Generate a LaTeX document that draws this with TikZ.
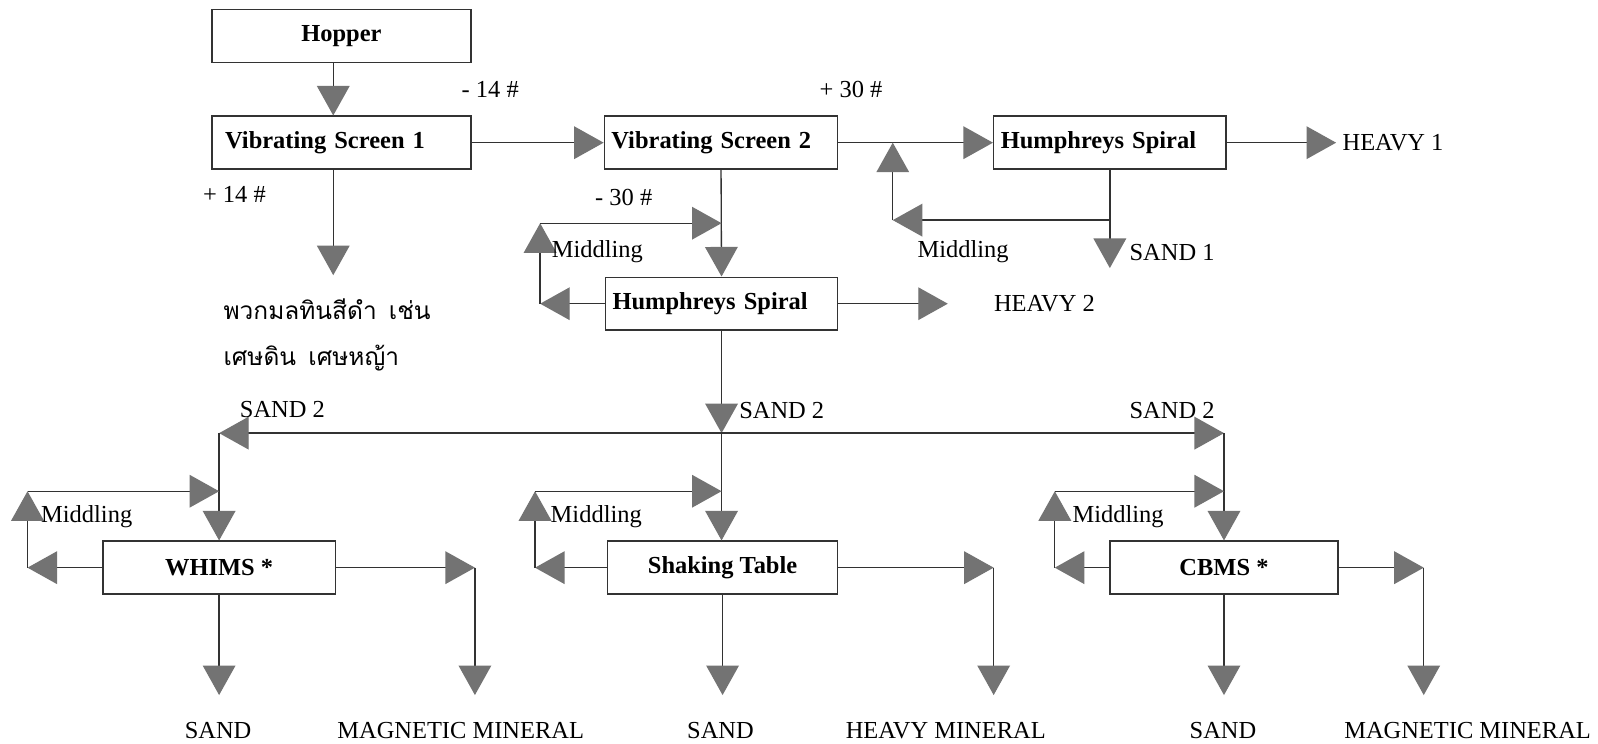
\documentclass[tikz,border=0pt]{standalone}
\usepackage{fontspec}
\setmainfont{Liberation Serif}
\newfontfamily\thaifont[Script=Thai]{Loma}
\usetikzlibrary{arrows.meta}
\definecolor{trigray}{RGB}{115,115,115}
\definecolor{linegray}{RGB}{50,50,50}
\begin{document}
\begin{tikzpicture}[x=0.5pt,y=-0.5pt,
  lbl/.style={font=\fontsize{12}{14}\selectfont, inner sep=0pt},
  thailbl/.style={font=\fontsize{12}{14}\selectfont\thaifont, inner sep=0pt, anchor=west},
  box/.style={draw=black!80, line width=0.7pt, minimum height=26pt, inner sep=0pt,
              font=\fontsize{12}{14}\selectfont\bfseries},
  lbox/.style={box, align=left, text width=#1, inner xsep=3.5pt},
  con/.style={draw=linegray, line width=0.65pt,
              -{Triangle[width=16pt,length=14.5pt,color=trigray]}},
]
\useasboundingbox[fill=white] (0,0) rectangle (1568,730);

% boxes
\node[box, minimum width=127pt] (hop) at (335,35.5) {Hopper};
\node[box, align=left, text width=114pt, inner xsep=6.5pt] (vs1) at (335,140) {Vibrating Screen 1};
\node[lbox=107.5pt] (vs2) at (707.5,140) {Vibrating Screen 2};
\node[lbox=107pt] (hs1) at (1089,140) {Humphreys Spiral};
\node[lbox=107pt] (hs2) at (708,298) {Humphreys Spiral};
\node[box, minimum width=114pt] (wh) at (215,557) {WHIMS *};
\node[box, minimum width=113pt] (st) at (709,557) {Shaking Table};
\node[box, minimum width=112pt] (cb) at (1201,557) {CBMS *};

% coordinates
\coordinate (cA) at (327,0);
\coordinate (tA) at (327,270);
\coordinate (h1) at (1311,140);
\coordinate (s1) at (1089,263);
\coordinate (j1) at (1089,216);
\coordinate (m1c) at (876,216);
\coordinate (m1t) at (876,140);
\coordinate (m2c) at (530,298);
\coordinate (m2t) at (530,219);
\coordinate (m2e) at (708,219);
\coordinate (h2) at (930,298);
\coordinate (j2) at (708,425);
\coordinate (L) at (215,425);
\coordinate (R) at (1201,425);
\coordinate (wlc) at (27,557);
\coordinate (wlt) at (27,482);
\coordinate (wrc) at (466,557);
\coordinate (wrb) at (466,682);
\coordinate (wsb) at (215,682);
\coordinate (slc) at (525,557);
\coordinate (slt) at (525,482);
\coordinate (src) at (975,557);
\coordinate (srb) at (975,682);
\coordinate (ssb) at (709,682);
\coordinate (clc) at (1035,557);
\coordinate (clt) at (1035,482);
\coordinate (crc) at (1397,557);
\coordinate (crb) at (1397,682);
\coordinate (csb) at (1201,682);

% top part
\draw[con] (hop.south -| cA) -- (vs1.north -| cA);
\draw[con] (vs1.south -| cA) -- (tA);
\draw[con] (vs1.east) -- (vs2.west);
\draw[con] (vs2.east) -- (hs1.west);
\draw[con] (hs1.east) -- (h1);
\draw[con] (hs1.south) -- (s1);
\draw[con] (j1) -- (m1c);
\draw[con] (m1c) -- (m1t);
\draw[con] (vs2.south) -- (hs2.north);
\draw[con] (hs2.west) -- (m2c);
\draw[con] (m2c) -- (m2t);
\draw[con] (m2t) -- (m2e);
\draw[con] (hs2.east) -- (h2);
\draw[con] (hs2.south) -- (j2);

% distribution of SAND 2
\draw[con] (j2) -- (L);
\draw[con] (L) -- (wh.north);
\draw[con] (j2) -- (R);
\draw[con] (R) -- (cb.north);
\draw[con] (j2) -- (j2 |- st.north);

% WHIMS
\draw[con] (wh.west) -- (wlc);
\draw[con] (wlc) -- (wlt);
\draw[con] (wlt) -- (wlt -| L);
\draw[con] (wh.east) -- (wrc);
\draw[con] (wrc) -- (wrb);
\draw[con] (wh.south) -- (wsb);

% Shaking table
\draw[con] (st.west) -- (slc);
\draw[con] (slc) -- (slt);
\draw[con] (slt) -- (slt -| j2);
\draw[con] (st.east) -- (src);
\draw[con] (src) -- (srb);
\draw[con] (st.south) -- (ssb);

% CBMS
\draw[con] (cb.west) -- (clc);
\draw[con] (clc) -- (clt);
\draw[con] (clt) -- (clt -| R);
\draw[con] (cb.east) -- (crc);
\draw[con] (crc) -- (crb);
\draw[con] (cb.south) -- (csb);

% labels
\node[lbl] (l14m) at (481,88) {- 14 \#};
\node[lbl] (l30p) at (835,88) {+ 30 \#};
\node[lbl] (l14p) at (230,191) {+ 14 \#};
\node[lbl] (l30m) at (612,194) {- 30 \#};
\node[lbl, anchor=west] (lhv1) at (1317,140) {HEAVY 1};
\node[lbl, anchor=west] (lsd1) at (1108,248) {SAND 1};
\node[lbl, anchor=west] (lmd1) at (900,247) {Middling};
\node[lbl, anchor=west] (lmd2) at (541,247) {Middling};
\node[lbl, anchor=west] (lhv2) at (975,298) {HEAVY 2};
\node[lbl, anchor=west] (lsd2m) at (725,403) {SAND 2};
\node[lbl, anchor=west] (lsd2l) at (235,402) {SAND 2};
\node[lbl, anchor=west] (lsd2r) at (1108,403) {SAND 2};
\node[lbl, anchor=west] (lmdw) at (40,507) {Middling};
\node[lbl, anchor=west] (lmds) at (540,507) {Middling};
\node[lbl, anchor=west] (lmdc) at (1052,507) {Middling};
\node[lbl] (bw1) at (214,717) {SAND};
\node[lbl] (bw2) at (452,717) {MAGNETIC MINERAL};
\node[lbl] (bs1) at (707,717) {SAND};
\node[lbl] (bs2) at (928,717) {HEAVY MINERAL};
\node[lbl] (bc1) at (1200,717) {SAND};
\node[lbl] (bc2) at (1440,717) {MAGNETIC MINERAL};

% Thai note
\node[thailbl] (th1) at (219,303) {พวกมลทินสีดำ\hspace{0.5em}เช่น};
\node[thailbl] (th2) at (219,351) {เศษดิน\hspace{0.5em}เศษหญ้า};
\end{tikzpicture}
\end{document}
